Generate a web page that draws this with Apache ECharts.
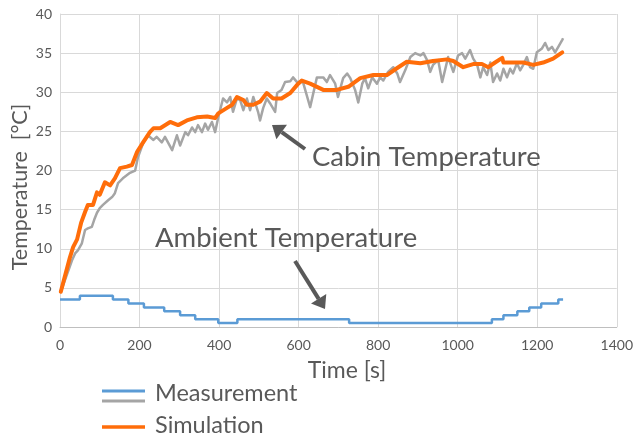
<!DOCTYPE html>
<html>
<head>
<meta charset="utf-8">
<script src="https://cdn.jsdelivr.net/npm/echarts@6/dist/echarts.min.js"></script>
<style>
html,body{margin:0;padding:0;background:#fff;}
#main{width:636px;height:439px;}
</style>
</head>
<body>
<div id="main"></div>
<script>
// ---- Data ----
const ambientTime = [0,50,133,172,211,262,302,340,398,446,727,1086,1115,1150,1180,1210,1253,1265];
const ambientTemp = [3.5,4,3.5,3,2.5,2,1.5,1,0.5,1,0.5,1,1.5,2,2.5,3,3.5,3.5];

const measTime = [2,30,38,45,55,63,70,80,86,93,100,108,121,131,138,146,158,176,189,196,209,221,235,243,256,264,282,294,302,315,322,332,340,347,357,365,372,382,390,398,410,420,428,435,445,453,461,470,478,486,498,503,511,520,528,541,546,557,566,579,586,596,611,629,646,662,671,679,692,699,712,722,730,742,750,760,767,775,785,797,805,813,825,838,848,855,868,881,893,906,914,923,931,938,951,961,968,976,981,989,1001,1011,1019,1031,1039,1049,1057,1064,1074,1082,1089,1099,1107,1115,1124,1132,1139,1149,1157,1165,1174,1182,1190,1199,1212,1220,1228,1237,1245,1253,1263,1265];
const measTemp = [4.5,8.5,9.4,9.8,10.7,12.4,12.6,12.8,13.7,14.6,15.2,15.6,16.2,16.6,17.1,18.4,19,19.7,20,21.7,23.5,24.5,23.9,24.3,23.6,24.3,22.6,24.5,23.2,24.9,24.5,25.5,24.9,25.8,24.9,26,25.2,26.2,24.9,26.8,29.2,28.7,29.4,27.5,29.2,29,27.7,29.2,27.7,29.4,27.5,26.4,28,29.2,28.6,27.5,29.9,30.3,31.3,31.4,31.9,31.3,31.3,28.1,31.9,31.9,31.3,32.2,31.1,29.4,31.8,32.4,31.8,30.3,28.7,31.1,31.8,30.5,31.9,31.1,31.9,31.5,32.6,33.2,32.4,31.3,32.8,34.5,35,34.7,35,34.1,32.6,33.5,34.1,31.3,32.8,34.5,34.5,32.6,34.7,35,34.3,35.4,34.3,33.5,31.9,33.2,32.2,33.8,31.3,32.4,31.5,33,31.9,33,32.4,33.7,32.8,33.5,34.5,33.2,33,35.1,35.6,36.3,35.4,35.8,35.1,35.8,36.7,36.9];

const simTime = [2,25,33,43,53,63,70,83,93,100,113,126,138,151,168,181,194,209,226,235,252,277,297,319,344,370,390,398,420,433,445,461,470,486,503,520,536,557,579,599,608,629,662,696,725,755,788,822,848,872,906,938,973,989,1014,1039,1061,1077,1094,1112,1115,1139,1165,1190,1215,1240,1263];
const simTemp = [4.5,8.9,10.2,11.2,13.3,14.7,15.6,15.6,17.2,16.9,18.5,18.1,19.0,20.3,20.5,20.7,22.4,23.6,24.9,25.4,25.4,26.2,25.8,26.4,26.8,26.9,26.7,27.3,28,28.4,29.4,29,28.4,28.4,28.8,29.9,29.2,29.2,29.9,31.1,31.5,31.1,30.3,30.3,30.7,31.8,32.2,32.2,33.1,33.9,33.7,34,34.2,34,33.2,33.6,33.6,33.2,33.8,34.4,33.8,33.8,33.8,33.5,33.8,34.3,35.1];

const xAxisName = 'Time [s]';
const yAxisName = 'Temperature  [°C]';
const legendNames = ['Measurement', 'Simulation'];
const annotations = ['Cabin Temperature', 'Ambient Temperature'];

// ---- Style ----
const FONT = 'Lato';
const TXT = '#595959';
const C_BLUE = '#5B9BD5', C_GRAY = '#A5A5A5', C_ORANGE = '#FF6D0A';

const pairs = (a, b) => a.map((t, i) => [t, b[i]]);

const chart = echarts.init(document.getElementById('main'));

function arrow(x1, y1, x2, y2, color, w, head) {
  const ang = Math.atan2(y2 - y1, x2 - x1);
  const hl = head, hw = head * 0.75;
  const bx = x2 - hl * Math.cos(ang), by = y2 - hl * Math.sin(ang);
  const px = -Math.sin(ang), py = Math.cos(ang);
  return [
    { type: 'line', shape: { x1: x1, y1: y1, x2: bx, y2: by }, style: { stroke: color, lineWidth: w }, z: 100 },
    { type: 'polygon', shape: { points: [[x2, y2], [bx + px * hw, by + py * hw], [bx - px * hw, by - py * hw]] }, style: { fill: color }, z: 100 }
  ];
}

const graphics = [].concat(
  [
    { type: 'text', x: 312, y: 157, style: { text: annotations[0], fill: TXT, font: '27.5px ' + FONT, textVerticalAlign: 'middle' }, z: 100 },
    { type: 'text', x: 155, y: 238, style: { text: annotations[1], fill: TXT, font: '27.5px ' + FONT, textVerticalAlign: 'middle' }, z: 100 },
    // axis names
    { type: 'text', x: 347, y: 371, style: { text: xAxisName, fill: TXT, font: '23px ' + FONT, textAlign: 'center', textVerticalAlign: 'middle' } },
    { type: 'text', x: 20, y: 187, rotation: Math.PI / 2, style: { text: yAxisName, fill: TXT, font: '21.5px ' + FONT, textAlign: 'center', textVerticalAlign: 'middle' } },
    // legend
    { type: 'line', shape: { x1: 102, y1: 391, x2: 145, y2: 391 }, style: { stroke: C_BLUE, lineWidth: 3 } },
    { type: 'line', shape: { x1: 102, y1: 401, x2: 145, y2: 401 }, style: { stroke: C_GRAY, lineWidth: 3 } },
    { type: 'line', shape: { x1: 102, y1: 427, x2: 145, y2: 427 }, style: { stroke: C_ORANGE, lineWidth: 3.5 } },
    { type: 'text', x: 155, y: 393, style: { text: legendNames[0], fill: TXT, font: '23.5px ' + FONT, textVerticalAlign: 'middle' } },
    { type: 'text', x: 155, y: 425, style: { text: legendNames[1], fill: TXT, font: '23.5px ' + FONT, textVerticalAlign: 'middle' } }
  ],
  arrow(305, 149, 272, 125, TXT, 4, 12),
  arrow(295, 261, 325, 309, TXT, 4, 12)
);

chart.setOption({
  animation: false,
  backgroundColor: '#fff',
  textStyle: { fontFamily: FONT },
  grid: { left: 60, right: 19, top: 14, bottom: 112, containLabel: false },
  xAxis: {
    type: 'value', min: 0, max: 1400, interval: 200,
    axisLine: { show: true, lineStyle: { color: '#BFBFBF', width: 1 } },
    axisTick: { show: false },
    axisLabel: { color: TXT, fontSize: 14, fontFamily: FONT, margin: 11, formatter: v => String(v) },
    splitLine: { show: true, lineStyle: { color: '#D9D9D9', width: 1 } }
  },
  yAxis: {
    type: 'value', min: 0, max: 40, interval: 5,
    axisLine: { show: true, lineStyle: { color: '#D9D9D9', width: 1 } },
    axisTick: { show: false },
    axisLabel: { color: TXT, fontSize: 14, fontFamily: FONT, margin: 8, formatter: v => String(v) },
    splitLine: { show: true, lineStyle: { color: '#D9D9D9', width: 1 } }
  },
  series: [
    { name: 'Ambient Measurement', type: 'line', step: 'end', data: pairs(ambientTime, ambientTemp),
      showSymbol: false, lineStyle: { color: C_BLUE, width: 2.5 }, z: 2 },
    { name: 'Cabin Measurement', type: 'line', data: pairs(measTime, measTemp),
      showSymbol: false, lineStyle: { color: C_GRAY, width: 2.5, join: 'round' }, z: 3 },
    { name: 'Cabin Simulation', type: 'line', data: pairs(simTime, simTemp),
      showSymbol: false, lineStyle: { color: C_ORANGE, width: 4, join: 'round', cap: 'round' }, z: 4 }
  ],
  graphic: graphics
});
</script>
</body>
</html>
